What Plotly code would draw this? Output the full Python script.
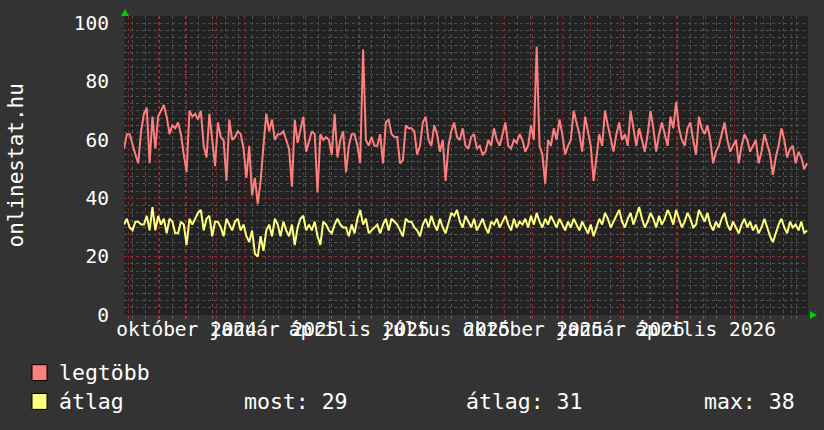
import plotly.graph_objects as go
import pandas as pd

# ---------------- data ----------------
dates = pd.date_range("2024-07-27", periods=241, freq="3D")

legtobb = [
    57, 62, 62, 58, 55, 52, 63, 69, 71, 52, 68, 57, 68, 70, 72, 68, 62, 65, 64, 66,
    62, 55, 49, 70, 68, 69, 67, 70, 58, 54, 69, 60, 51, 66, 61, 60, 46, 67, 60, 61,
    63, 62, 57, 47, 58, 41, 47, 38, 46, 58, 69, 63, 67, 60, 62, 62, 63, 60, 57, 44,
    67, 59, 63, 68, 56, 60, 63, 62, 42, 62, 60, 61, 60, 55, 69, 54, 60, 63, 49, 58,
    62, 62, 58, 52, 91, 60, 58, 61, 58, 58, 62, 52, 66, 67, 62, 61, 61, 52, 53, 65,
    64, 64, 63, 55, 58, 66, 68, 60, 58, 65, 62, 56, 60, 46, 58, 63, 66, 61, 60, 64,
    58, 57, 61, 62, 57, 58, 55, 56, 60, 58, 64, 60, 58, 62, 66, 58, 57, 60, 59, 62,
    60, 56, 58, 65, 60, 92, 58, 55, 45, 60, 58, 64, 60, 67, 62, 55, 58, 60, 70, 66,
    62, 56, 68, 63, 58, 46, 55, 62, 58, 70, 65, 60, 56, 62, 66, 60, 62, 58, 70, 64,
    58, 64, 60, 56, 62, 70, 64, 56, 62, 66, 62, 58, 68, 64, 73, 64, 60, 58, 64, 66,
    60, 55, 68, 64, 62, 65, 60, 52, 56, 58, 62, 66, 60, 56, 58, 60, 52, 58, 62, 60,
    56, 58, 60, 52, 56, 62, 58, 55, 48, 54, 58, 64, 60, 54, 57, 58, 52, 56, 54, 50,
    52,
]

atlag = [
    31, 33, 30, 29, 32, 32, 31, 31, 34, 29, 37, 29, 34, 31, 33, 28, 33, 32, 28, 28,
    32, 31, 24, 33, 31, 33, 35, 36, 29, 33, 34, 27, 32, 32, 30, 27, 33, 31, 29, 32,
    33, 29, 31, 27, 25, 29, 21, 20, 27, 22, 29, 31, 27, 33, 31, 27, 32, 29, 27, 31,
    24, 30, 33, 34, 29, 31, 29, 32, 27, 24, 32, 31, 29, 28, 31, 33, 31, 30, 30, 27,
    31, 28, 33, 36, 31, 33, 28, 29, 30, 31, 28, 31, 33, 29, 33, 32, 31, 29, 27, 33,
    32, 32, 30, 29, 27, 31, 33, 30, 34, 31, 29, 33, 30, 28, 32, 35, 34, 36, 32, 30,
    34, 32, 30, 33, 29, 31, 33, 30, 28, 32, 31, 33, 30, 32, 34, 31, 29, 33, 30, 32,
    31, 33, 30, 34, 31, 35, 32, 30, 33, 31, 34, 32, 30, 33, 31, 29, 32, 30, 33, 31,
    29, 32, 30, 28, 31, 27, 30, 33, 31, 35, 33, 30, 32, 34, 36, 32, 30, 33, 35, 31,
    34, 37, 33, 30, 32, 35, 33, 30, 34, 31, 33, 36, 34, 31, 36, 33, 30, 32, 35, 33,
    30, 31, 36, 34, 32, 35, 31, 29, 32, 30, 33, 35, 31, 29, 32, 30, 28, 31, 33, 30,
    32, 29, 31, 28, 30, 33, 30, 27, 25, 28, 31, 33, 30, 28, 32, 30, 31, 29, 32, 28,
    29,
]

x_range = ["2024-07-27", "2026-07-18"]
tick_dates = ["2024-10-01", "2025-01-01", "2025-04-01", "2025-07-01",
              "2025-10-01", "2026-01-01", "2026-04-01", "2026-07-01"]
tick_labels = ["október 2024", "január 2025", "április 2025", "július 2025",
               "október 2025", "január 2026", "április 2026", "július 2026"]
y_ticks = [0, 20, 40, 60, 80, 100]
series_names = ["legtöbb", "átlag"]
series_colors = ["#ff7f7f", "#ffff7f"]
stat_labels = ["most: 29", "átlag: 31", "max: 38"]
y_title = "onlinestat.hu"

# ---------------- figure ----------------
FONT = "DejaVu Sans Mono"
W, H = 824, 430
L, R, T, B = 124, 16, 14, 115
PW, PH = W - L - R, H - T - B
MAJOR = "rgba(140,45,45,0.85)"
MINOR = "rgba(95,95,95,0.8)"

fig = go.Figure()
fig.add_trace(go.Scatter(x=dates, y=legtobb, mode="lines", name=series_names[0],
                         line=dict(color=series_colors[0], width=2), xaxis="x", yaxis="y"))
fig.add_trace(go.Scatter(x=dates, y=atlag, mode="lines", name=series_names[1],
                         line=dict(color=series_colors[1], width=2), xaxis="x", yaxis="y"))
# label axis carrier
fig.add_trace(go.Scatter(x=[dates[0], dates[-1]], y=[None, None], mode="lines",
                         xaxis="x2", yaxis="y", hoverinfo="skip", showlegend=False))

fig.update_layout(
    width=W, height=H,
    margin=dict(l=L, r=R, t=T, b=B, pad=0),
    paper_bgcolor="#333333",
    plot_bgcolor="#222222",
    showlegend=False,
    font=dict(family=FONT, color="#ffffff"),
    xaxis=dict(
        type="date", range=x_range, showticklabels=False,
        ticks="outside", ticklen=3, tickcolor="rgba(170,50,50,0.9)",
        showgrid=True, tick0="2024-08-01", dtick="M1",
        gridcolor=MAJOR, griddash="dot", gridwidth=1,
        minor=dict(showgrid=True, dtick=14 * 86400000, tick0="2024-08-05",
                   gridcolor=MINOR, griddash="dot", gridwidth=1,
                   ticks="outside", ticklen=3, tickcolor="#666666"),
        zeroline=False, showline=False,
    ),
    xaxis2=dict(
        type="date", range=x_range, overlaying="x", side="bottom", anchor="y",
        tickmode="array", tickvals=tick_dates, ticktext=tick_labels,
        tickangle=0, ticks="", showgrid=False, zeroline=False, showline=False,
        tickfont=dict(family=FONT, size=19.5, color="#ffffff"),
    ),
    yaxis=dict(
        range=[0, 102.5], tickmode="array", tickvals=y_ticks, ticks="",
        showgrid=True, gridcolor=MAJOR, griddash="dot", gridwidth=1,
        minor=dict(showgrid=True, dtick=2.5, gridcolor=MINOR, griddash="dot", gridwidth=1),
        zeroline=False, showline=False, ticklabelstandoff=14,
        tickfont=dict(family=FONT, size=19.5, color="#ffffff"),
    ),
)

# y title
fig.add_annotation(text=y_title, xref="paper", yref="paper",
                   x=(15 - L) / PW, y=0.5, xanchor="center", yanchor="middle",
                   textangle=-90, showarrow=False,
                   font=dict(family=FONT, size=21, color="#ffffff"))

# green arrows
fig.add_shape(type="path", xref="paper", yref="paper", xsizemode="pixel", ysizemode="pixel",
              xanchor=0, yanchor=1, path="M -3,0 L 1,7 L 5,0 Z",
              fillcolor="#00cc00", line=dict(width=0))
fig.add_shape(type="path", xref="paper", yref="paper", xsizemode="pixel", ysizemode="pixel",
              xanchor=1, yanchor=0, path="M 2,4 L 9,0 L 2,-4 Z",
              fillcolor="#00cc00", line=dict(width=0))

# legend (custom)
def px_x(px):
    return (px - L) / PW

def px_y(py):
    return (H - B - py) / PH

rows_y = [373, 402]
for i, (nm, col) in enumerate(zip(series_names, series_colors)):
    cy = rows_y[i]
    fig.add_shape(type="rect", xref="paper", yref="paper",
                  x0=px_x(32), x1=px_x(47), y0=px_y(cy + 8), y1=px_y(cy - 8),
                  fillcolor=col, line=dict(color="#000000", width=1))
    fig.add_annotation(text=nm, xref="paper", yref="paper", x=px_x(57), y=px_y(cy),
                       xanchor="left", yanchor="middle", showarrow=False,
                       font=dict(family=FONT, size=21.5, color="#ffffff"))

stat_x = [242, 464, 702]
for sx, s in zip(stat_x, stat_labels):
    fig.add_annotation(text=s, xref="paper", yref="paper", x=px_x(sx), y=px_y(rows_y[1]),
                       xanchor="left", yanchor="middle", showarrow=False,
                       font=dict(family=FONT, size=21.5, color="#ffffff"))

fig.write_html("out.html", config={"displayModeBar": False},
               post_script="document.body.style.margin='0px';")
